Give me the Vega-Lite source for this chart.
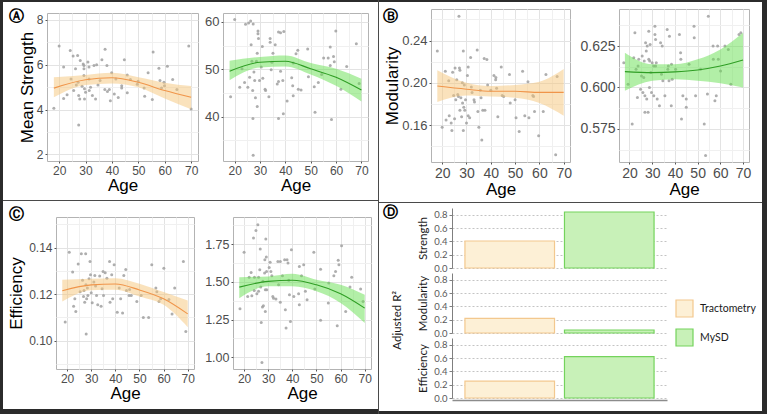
{
"$schema": "https://vega.github.io/schema/vega-lite/v6.json",
"padding": 0,
"background": "#ffffff",
"spacing": 0,
"config": {
  "font": "Liberation Sans",
  "view": {"stroke": null},
  "concat": {"spacing": 0},
  "axis": {"domain": false, "labelFont": "Liberation Sans", "titleFont": "Liberation Sans", "titleFontWeight": "normal", "titleColor": "#000000", "labelColor": "#4d4d4d", "labelFontSize": 12, "tickSize": 2, "tickColor": "#555555", "gridColor": "#e6e6e6", "labelOverlap": false, "labelFlush": false, "labelPadding": 2}
},
"datasets": {
  "a1": [{"age":20,"v":6.84},{"age":18,"v":4.06},{"age":21.7,"v":5.9},{"age":21.7,"v":4.5},{"age":23,"v":4.66},{"age":24.2,"v":6.64},{"age":24.5,"v":5.37},{"age":25.3,"v":6.39},{"age":25.5,"v":4.85},{"age":26.2,"v":5.82},{"age":26.5,"v":5.1},{"age":27,"v":6.42},{"age":27.2,"v":5.22},{"age":27.4,"v":3.31},{"age":27.4,"v":4.63},{"age":27.8,"v":4.48},{"age":28,"v":6.19},{"age":28.7,"v":5.04},{"age":29.1,"v":6.04},{"age":29.4,"v":5.97},{"age":29.4,"v":5.82},{"age":29.4,"v":5.52},{"age":29.6,"v":4.93},{"age":29.6,"v":4.48},{"age":30,"v":4.78},{"age":30.9,"v":6.12},{"age":31.3,"v":5.9},{"age":31.3,"v":5.37},{"age":31.4,"v":4.85},{"age":31.9,"v":5.0},{"age":32.6,"v":4.63},{"age":33.2,"v":5.97},{"age":33.8,"v":4.48},{"age":34.2,"v":6.0},{"age":34.7,"v":5.1},{"age":35.5,"v":5.3},{"age":36.2,"v":6.22},{"age":37.4,"v":6.69},{"age":37.3,"v":4.9},{"age":38.1,"v":5.97},{"age":38.3,"v":4.81},{"age":39,"v":4.9},{"age":39.4,"v":4.4},{"age":39.9,"v":5.64},{"age":40.9,"v":4.7},{"age":41.5,"v":5.37},{"age":42.4,"v":4.54},{"age":43.7,"v":5.07},{"age":43.7,"v":4.96},{"age":44.7,"v":6.22},{"age":45.8,"v":5.55},{"age":45.8,"v":4.75},{"age":47,"v":5.34},{"age":49.6,"v":5.13},{"age":49.9,"v":5.27},{"age":52.2,"v":4.96},{"age":52.4,"v":4.6},{"age":53.7,"v":5.64},{"age":55.3,"v":4.45},{"age":55.6,"v":6.57},{"age":57.8,"v":5.85},{"age":58.2,"v":5.3},{"age":58.8,"v":4.96},{"age":59.7,"v":5.22},{"age":59.9,"v":5.07},{"age":61,"v":5.93},{"age":63,"v":5.34},{"age":64.6,"v":4.9},{"age":69.1,"v":6.84},{"age":70,"v":4.03}],
  "a2": [{"age":18.4,"v":44.2},{"age":20,"v":60.5},{"age":22,"v":46.2},{"age":22.9,"v":50.1},{"age":23.9,"v":47.2},{"age":24.3,"v":59.5},{"age":25.2,"v":46.2},{"age":25.5,"v":59.8},{"age":25.9,"v":48.3},{"age":26.3,"v":60.2},{"age":26.5,"v":55.2},{"age":26.8,"v":51.7},{"age":27.1,"v":45.5},{"age":27.2,"v":39.6},{"age":27.3,"v":59.6},{"age":27.3,"v":31.8},{"age":27.6,"v":49.4},{"age":27.9,"v":47.6},{"age":28.2,"v":44},{"age":28.6,"v":51.7},{"age":28.9,"v":53.4},{"age":28.9,"v":42.1},{"age":29.2,"v":58.1},{"age":29.2,"v":57.5},{"age":29.4,"v":56.5},{"age":29.8,"v":47.6},{"age":30.5,"v":50.5},{"age":30.9,"v":54.8},{"age":31.1,"v":48.1},{"age":32,"v":45.8},{"age":32.2,"v":45.5},{"age":33.5,"v":44.2},{"age":34,"v":56.5},{"age":34,"v":55.7},{"age":34.4,"v":49.9},{"age":34.7,"v":51.5},{"age":35.1,"v":53.4},{"age":36,"v":55.2},{"age":36.8,"v":46.9},{"age":37.3,"v":57.9},{"age":37.3,"v":47.4},{"age":37.3,"v":39.6},{"age":38.1,"v":57.7},{"age":38.1,"v":49.6},{"age":39,"v":47.6},{"age":39.2,"v":40.6},{"age":39.4,"v":58},{"age":40.7,"v":43.3},{"age":42.5,"v":48.2},{"age":42.9,"v":46.5},{"age":43.1,"v":51.3},{"age":43.1,"v":44.4},{"age":44.2,"v":53.3},{"age":44.9,"v":54},{"age":45.1,"v":45.8},{"age":46.2,"v":45.6},{"age":48.8,"v":54.3},{"age":49.1,"v":48.4},{"age":51.4,"v":46.3},{"age":51.7,"v":40.9},{"age":53,"v":47.2},{"age":54.3,"v":48.9},{"age":55.1,"v":52.4},{"age":56.9,"v":52.4},{"age":57.7,"v":54.7},{"age":57.7,"v":50.8},{"age":58.2,"v":39.4},{"age":59,"v":52.7},{"age":59.3,"v":51.6},{"age":59.9,"v":58.1},{"age":61.9,"v":45.8},{"age":64.2,"v":50.6},{"age":68,"v":55.4},{"age":69.1,"v":47}],
  "b1": [{"age":18,"v":0.230},{"age":20,"v":0.158},{"age":21.3,"v":0.211},{"age":21.6,"v":0.165},{"age":22.7,"v":0.202},{"age":22.9,"v":0.169},{"age":23.7,"v":0.162},{"age":24,"v":0.155},{"age":24.3,"v":0.210},{"age":24.7,"v":0.188},{"age":25.1,"v":0.166},{"age":25.3,"v":0.214},{"age":25.6,"v":0.184},{"age":26,"v":0.203},{"age":26.4,"v":0.189},{"age":26.7,"v":0.187},{"age":26.9,"v":0.263},{"age":27.1,"v":0.214},{"age":27.3,"v":0.212},{"age":27.3,"v":0.174},{"age":27.7,"v":0.186},{"age":28,"v":0.168},{"age":28.3,"v":0.200},{"age":28.4,"v":0.181},{"age":28.7,"v":0.230},{"age":28.7,"v":0.155},{"age":28.9,"v":0.177},{"age":29.1,"v":0.198},{"age":29.3,"v":0.174},{"age":29.6,"v":0.184},{"age":30,"v":0.162},{"age":30.4,"v":0.207},{"age":30.7,"v":0.215},{"age":30.7,"v":0.169},{"age":31.3,"v":0.167},{"age":31.7,"v":0.224},{"age":32,"v":0.196},{"age":32.3,"v":0.191},{"age":33.1,"v":0.184},{"age":33.3,"v":0.182},{"age":34.4,"v":0.231},{"age":34.7,"v":0.173},{"age":35.1,"v":0.158},{"age":35.7,"v":0.193},{"age":36,"v":0.186},{"age":36.3,"v":0.146},{"age":36.7,"v":0.174},{"age":37.3,"v":0.223},{"age":37.6,"v":0.174},{"age":38.4,"v":0.222},{"age":38.7,"v":0.198},{"age":40,"v":0.193},{"age":41.3,"v":0.207},{"age":42,"v":0.203},{"age":42.1,"v":0.205},{"age":42.4,"v":0.195},{"age":42.9,"v":0.168},{"age":44.3,"v":0.215},{"age":44.7,"v":0.188},{"age":45.3,"v":0.187},{"age":47.7,"v":0.208},{"age":48,"v":0.181},{"age":50,"v":0.184},{"age":50.4,"v":0.167},{"age":51.7,"v":0.154},{"age":53.1,"v":0.211},{"age":54,"v":0.169},{"age":55.3,"v":0.201},{"age":55.7,"v":0.167},{"age":57.3,"v":0.188},{"age":57.6,"v":0.187},{"age":58,"v":0.173},{"age":59.7,"v":0.150},{"age":61.6,"v":0.173},{"age":62.7,"v":0.208},{"age":66.7,"v":0.132},{"age":67.3,"v":0.206}],
  "b2": [{"age":17.5,"v":0.615},{"age":19.4,"v":0.602},{"age":21.2,"v":0.578},{"age":21.9,"v":0.618},{"age":22.4,"v":0.633},{"age":22.9,"v":0.611},{"age":23.5,"v":0.594},{"age":23.8,"v":0.613},{"age":24.1,"v":0.617},{"age":24.9,"v":0.599},{"age":25.3,"v":0.607},{"age":25.6,"v":0.619},{"age":25.9,"v":0.597},{"age":26.3,"v":0.606},{"age":26.5,"v":0.616},{"age":26.8,"v":0.595},{"age":26.8,"v":0.585},{"age":27.1,"v":0.627},{"age":27.4,"v":0.622},{"age":27.6,"v":0.593},{"age":27.8,"v":0.625},{"age":28.2,"v":0.585},{"age":28.5,"v":0.634},{"age":28.5,"v":0.617},{"age":28.8,"v":0.600},{"age":28.9,"v":0.616},{"age":29.1,"v":0.626},{"age":29.4,"v":0.609},{"age":29.7,"v":0.597},{"age":30,"v":0.615},{"age":30.7,"v":0.613},{"age":30.7,"v":0.595},{"age":31.2,"v":0.637},{"age":31.2,"v":0.632},{"age":31.5,"v":0.629},{"age":31.5,"v":0.613},{"age":31.8,"v":0.615},{"age":32.2,"v":0.593},{"age":33.2,"v":0.589},{"age":33.7,"v":0.627},{"age":34.1,"v":0.608},{"age":34.4,"v":0.625},{"age":34.7,"v":0.604},{"age":35.6,"v":0.595},{"age":36.6,"v":0.635},{"age":36.9,"v":0.611},{"age":37.1,"v":0.613},{"age":37.4,"v":0.604},{"age":37.6,"v":0.631},{"age":38.4,"v":0.589},{"age":38.5,"v":0.614},{"age":38.8,"v":0.605},{"age":40.3,"v":0.611},{"age":42,"v":0.632},{"age":42.5,"v":0.621},{"age":42.6,"v":0.617},{"age":42.9,"v":0.581},{"age":43.5,"v":0.595},{"age":45,"v":0.593},{"age":45,"v":0.588},{"age":46.2,"v":0.614},{"age":48.4,"v":0.637},{"age":48.5,"v":0.630},{"age":49.1,"v":0.595},{"age":51.3,"v":0.611},{"age":52.9,"v":0.578},{"age":53.5,"v":0.559},{"age":54.3,"v":0.596},{"age":54.7,"v":0.643},{"age":56.8,"v":0.625},{"age":56.9,"v":0.617},{"age":57.6,"v":0.592},{"age":58.2,"v":0.595},{"age":58.8,"v":0.625},{"age":59.1,"v":0.617},{"age":60.1,"v":0.610},{"age":62,"v":0.625},{"age":63.5,"v":0.623},{"age":64.6,"v":0.602},{"age":68.2,"v":0.632},{"age":69,"v":0.633}],
  "c1": [{"age":19.2,"v":0.108},{"age":20.9,"v":0.138},{"age":22.3,"v":0.1295},{"age":22.7,"v":0.1148},{"age":23.2,"v":0.118},{"age":23.6,"v":0.1125},{"age":24.6,"v":0.133},{"age":25.4,"v":0.121},{"age":25.9,"v":0.1374},{"age":26.4,"v":0.126},{"age":26.8,"v":0.119},{"age":27,"v":0.1216},{"age":27.3,"v":0.1165},{"age":27.7,"v":0.1374},{"age":27.8,"v":0.124},{"age":27.9,"v":0.1029},{"age":28.1,"v":0.118},{"age":28.4,"v":0.1226},{"age":28.6,"v":0.1194},{"age":29.1,"v":0.1266},{"age":29.5,"v":0.134},{"age":29.7,"v":0.1283},{"age":30,"v":0.1206},{"age":30.4,"v":0.1163},{"age":31.1,"v":0.1252},{"age":31.5,"v":0.128},{"age":31.8,"v":0.1235},{"age":32.2,"v":0.1194},{"age":32.7,"v":0.1154},{"age":33.5,"v":0.1278},{"age":34.1,"v":0.1148},{"age":34.5,"v":0.1223},{"age":34.9,"v":0.1298},{"age":35.1,"v":0.1194},{"age":35.8,"v":0.1292},{"age":36.5,"v":0.1269},{"age":37.6,"v":0.134},{"age":37.8,"v":0.1165},{"age":38.5,"v":0.1283},{"age":38.9,"v":0.118},{"age":39.5,"v":0.1327},{"age":40.8,"v":0.1122},{"age":41.6,"v":0.1226},{"age":42.2,"v":0.118},{"age":43,"v":0.1119},{"age":43.5,"v":0.128},{"age":44.3,"v":0.1306},{"age":44.6,"v":0.1216},{"age":45.7,"v":0.1194},{"age":45.9,"v":0.122},{"age":46.6,"v":0.1194},{"age":48.9,"v":0.1168},{"age":50.7,"v":0.1194},{"age":51.6,"v":0.110},{"age":53.8,"v":0.110},{"age":55.1,"v":0.1327},{"age":56.8,"v":0.1226},{"age":57.2,"v":0.121},{"age":58.1,"v":0.1168},{"age":58.8,"v":0.118},{"age":60.1,"v":0.1312},{"age":62.2,"v":0.1177},{"age":63.5,"v":0.1115},{"age":64.6,"v":0.1226},{"age":68.2,"v":0.134},{"age":69.2,"v":0.1039}],
  "c2": [{"age":18.3,"v":1.322},{"age":20,"v":1.695},{"age":21.5,"v":1.403},{"age":22.1,"v":1.531},{"age":22.9,"v":1.562},{"age":23.2,"v":1.408},{"age":23.9,"v":1.79},{"age":24.2,"v":1.443},{"age":24.3,"v":1.531},{"age":24.9,"v":1.84},{"age":25.3,"v":1.421},{"age":25.7,"v":1.878},{"age":26,"v":1.531},{"age":26,"v":1.437},{"age":26.5,"v":1.58},{"age":26.7,"v":1.717},{"age":26.9,"v":1.465},{"age":27.1,"v":1.231},{"age":27.4,"v":0.966},{"age":27.6,"v":1.333},{"age":27.8,"v":1.503},{"age":28,"v":1.342},{"age":28.5,"v":1.558},{"age":28.6,"v":1.646},{"age":28.8,"v":1.304},{"age":28.8,"v":1.448},{"age":29,"v":1.783},{"age":29.2,"v":1.664},{"age":29.3,"v":1.569},{"age":29.4,"v":1.448},{"age":30.4,"v":1.595},{"age":30.8,"v":1.629},{"age":31.1,"v":1.569},{"age":31.5,"v":1.54},{"age":31.9,"v":1.403},{"age":32.2,"v":1.392},{"age":33.2,"v":1.386},{"age":34,"v":1.635},{"age":34.3,"v":1.48},{"age":35,"v":1.635},{"age":35,"v":1.364},{"age":35.9,"v":1.54},{"age":36.8,"v":1.646},{"age":37.1,"v":1.315},{"age":37.4,"v":1.194},{"age":37.8,"v":1.646},{"age":38.2,"v":1.624},{"age":38.5,"v":1.51},{"age":38.8,"v":1.415},{"age":39.2,"v":1.238},{"age":39.6,"v":1.712},{"age":40.6,"v":1.403},{"age":42.6,"v":1.421},{"age":42.9,"v":1.348},{"age":42.9,"v":1.602},{"age":43.8,"v":1.54},{"age":44.7,"v":1.613},{"age":45.4,"v":1.437},{"age":46.1,"v":1.381},{"age":48.9,"v":1.695},{"age":49.3,"v":1.452},{"age":51.7,"v":1.584},{"age":51.7,"v":1.245},{"age":54.9,"v":1.36},{"age":55.1,"v":1.492},{"age":57.2,"v":1.54},{"age":57.9,"v":1.569},{"age":58.6,"v":1.21},{"age":59,"v":1.642},{"age":59.3,"v":1.613},{"age":60.4,"v":1.739},{"age":62.1,"v":1.304},{"age":63.9,"v":1.465},{"age":64.6,"v":1.531},{"age":68.3,"v":1.452},{"age":69.3,"v":1.37}],
  "fa1": [{"age":18,"fit":4.96,"lo":4.55,"hi":5.45},{"age":30,"fit":5.33,"lo":5.10,"hi":5.55},{"age":40,"fit":5.42,"lo":5.17,"hi":5.64},{"age":50,"fit":5.22,"lo":5.0,"hi":5.45},{"age":60,"fit":4.85,"lo":4.5,"hi":5.2},{"age":70,"fit":4.55,"lo":4.02,"hi":5.05}],
  "fa2": [{"age":18,"fit":49.6,"lo":47.7,"hi":51.8},{"age":30,"fit":51.5,"lo":50.4,"hi":52.6},{"age":40,"fit":51.7,"lo":50.6,"hi":52.9},{"age":50,"fit":50.1,"lo":48.9,"hi":51.3},{"age":60,"fit":48.3,"lo":46.5,"hi":50.1},{"age":70,"fit":45.6,"lo":43.2,"hi":48.0}],
  "fb1": [{"age":18,"fit":0.197,"lo":0.182,"hi":0.212},{"age":30,"fit":0.194,"lo":0.188,"hi":0.200},{"age":40,"fit":0.192,"lo":0.187,"hi":0.197},{"age":50,"fit":0.192,"lo":0.186,"hi":0.198},{"age":60,"fit":0.191,"lo":0.181,"hi":0.201},{"age":70,"fit":0.191,"lo":0.169,"hi":0.213}],
  "fb2": [{"age":18,"fit":0.6096,"lo":0.598,"hi":0.621},{"age":30,"fit":0.609,"lo":0.604,"hi":0.614},{"age":40,"fit":0.6094,"lo":0.605,"hi":0.614},{"age":50,"fit":0.6106,"lo":0.604,"hi":0.617},{"age":60,"fit":0.613,"lo":0.6026,"hi":0.623},{"age":70,"fit":0.6166,"lo":0.600,"hi":0.633}],
  "fc1": [{"age":18,"fit":0.1215,"lo":0.1168,"hi":0.1262},{"age":30,"fit":0.124,"lo":0.1217,"hi":0.1266},{"age":40,"fit":0.1244,"lo":0.1219,"hi":0.1269},{"age":50,"fit":0.1218,"lo":0.119,"hi":0.1245},{"age":60,"fit":0.118,"lo":0.1154,"hi":0.1209},{"age":70,"fit":0.1115,"lo":0.1058,"hi":0.1173}],
  "fc2": [{"age":18,"fit":1.465,"lo":1.392,"hi":1.531},{"age":30,"fit":1.503,"lo":1.47,"hi":1.536},{"age":40,"fit":1.51,"lo":1.47,"hi":1.554},{"age":50,"fit":1.48,"lo":1.437,"hi":1.514},{"age":60,"fit":1.421,"lo":1.36,"hi":1.481},{"age":70,"fit":1.326,"lo":1.227,"hi":1.414}],
  "d": [{"m":"Strength","g":"Tractometry","r":0.405},{"m":"Strength","g":"MySD","r":0.84},{"m":"Modularity","g":"Tractometry","r":0.22},{"m":"Modularity","g":"MySD","r":0.045},{"m":"Efficiency","g":"Tractometry","r":0.253},{"m":"Efficiency","g":"MySD","r":0.62}]
},
"hconcat": [
  {"width": 3, "height": 414, "data": {"values": []}, "mark": {"type": "point", "opacity": 0}, "encoding": {}, "view": {"fill": "#2b2b2b", "stroke": null}},
  {"spacing": 0, "vconcat": [
    {"width": 375, "height": 2, "data": {"values": []}, "mark": {"type": "point", "opacity": 0}, "encoding": {}, "view": {"fill": "#2b2b2b", "stroke": null}},
    {"width": 1, "height": 6, "data": {"values": []}, "mark": {"type": "point", "opacity": 0}, "encoding": {}, "view": {"fill": "#ffffff", "stroke": null}},
    {"spacing": 0,
     "title": {"text": "Ⓐ", "orient": "top", "anchor": "start", "frame": "bounds", "font": "DejaVu Sans", "fontSize": 15, "fontWeight": "bold", "color": "#000000", "baseline": "middle", "offset": 0, "dx": 6, "dy": 18},
     "hconcat": [
      {"width": 14, "height": 1, "data": {"values": []}, "mark": {"type": "point", "opacity": 0}, "encoding": {}, "view": {"fill": "#ffffff", "stroke": null}},
      {"width": 151, "height": 148, "view": {"stroke": "#b3b3b3"},
       "encoding": {"x": {"field": "age", "type": "quantitative", "title": "Age", "scale": {"domain": [15.4, 72.6], "nice": false, "zero": false},
                "axis": {"values": [20,25,30,35,40,45,50,55,60,65,70], "labelExpr": "datum.value % 10 === 0 ? datum.label : ''", "labelOverlap": false, "tickColor": {"condition": {"test": "datum.value % 10 === 0", "value": "#555555"}, "value": "transparent"}, "gridColor": {"condition": {"test": "datum.value % 10 === 0", "value": "#e3e3e3"}, "value": "#f0f0f0"}, "titleFontSize": 17, "titlePadding": 1}}},
       "layer": [
        {"data": {"name": "a1"}, "mark": {"type": "circle", "size": 9, "color": "#a0a0a0", "opacity": 0.85},
         "encoding": {"y": {"field": "v", "type": "quantitative", "title": "Mean Strength", "scale": {"domain": [1.71, 8.31], "nice": false, "zero": false},
                "axis": {"values": [2,3,4,5,6,7,8], "labelExpr": "datum.value % 2 === 0 ? datum.label : ''", "labelOverlap": false, "tickColor": {"condition": {"test": "datum.value % 2 === 0", "value": "#555555"}, "value": "transparent"}, "gridColor": {"condition": {"test": "datum.value % 2 === 0", "value": "#e3e3e3"}, "value": "#f0f0f0"}, "titleFontSize": 17, "titlePadding": 0}}}},
        {"data": {"name": "fa1"}, "mark": {"type": "area", "color": "#f5c57a", "opacity": 0.5, "interpolate": "monotone"},
         "encoding": {"y": {"field": "lo", "type": "quantitative", "title": "Mean Strength", "scale": {"domain": [1.71, 8.31], "nice": false, "zero": false},
                "axis": {"values": [2,3,4,5,6,7,8], "labelExpr": "datum.value % 2 === 0 ? datum.label : ''", "labelOverlap": false, "tickColor": {"condition": {"test": "datum.value % 2 === 0", "value": "#555555"}, "value": "transparent"}, "gridColor": {"condition": {"test": "datum.value % 2 === 0", "value": "#e3e3e3"}, "value": "#f0f0f0"}, "titleFontSize": 17, "titlePadding": 0}}, "y2": {"field": "hi"}}},
        {"data": {"name": "fa1"}, "mark": {"type": "line", "color": "#f0954a", "strokeWidth": 1.1, "interpolate": "monotone"},
         "encoding": {"y": {"field": "fit", "type": "quantitative", "title": "Mean Strength", "scale": {"domain": [1.71, 8.31], "nice": false, "zero": false},
                "axis": {"values": [2,3,4,5,6,7,8], "labelExpr": "datum.value % 2 === 0 ? datum.label : ''", "labelOverlap": false, "tickColor": {"condition": {"test": "datum.value % 2 === 0", "value": "#555555"}, "value": "transparent"}, "gridColor": {"condition": {"test": "datum.value % 2 === 0", "value": "#e3e3e3"}, "value": "#f0f0f0"}, "titleFontSize": 17, "titlePadding": 0}}}}
       ]},
      {"width": 5, "height": 1, "data": {"values": []}, "mark": {"type": "point", "opacity": 0}, "encoding": {}, "view": {"fill": "#ffffff", "stroke": null}},
      {"width": 145, "height": 148, "view": {"stroke": "#b3b3b3"},
       "encoding": {"x": {"field": "age", "type": "quantitative", "title": "Age", "scale": {"domain": [15.4, 72.6], "nice": false, "zero": false},
                "axis": {"values": [20,25,30,35,40,45,50,55,60,65,70], "labelExpr": "datum.value % 10 === 0 ? datum.label : ''", "labelOverlap": false, "tickColor": {"condition": {"test": "datum.value % 10 === 0", "value": "#555555"}, "value": "transparent"}, "gridColor": {"condition": {"test": "datum.value % 10 === 0", "value": "#e3e3e3"}, "value": "#f0f0f0"}, "titleFontSize": 17, "titlePadding": 1}}},
       "layer": [
        {"data": {"name": "a2"}, "mark": {"type": "circle", "size": 9, "color": "#a0a0a0", "opacity": 0.85},
         "encoding": {"y": {"field": "v", "type": "quantitative", "title": null, "scale": {"domain": [30.6, 61.9], "nice": false, "zero": false},
                "axis": {"values": [35,40,45,50,55,60], "labelExpr": "datum.value % 10 === 0 ? datum.label : ''", "labelOverlap": false, "tickColor": {"condition": {"test": "datum.value % 10 === 0", "value": "#555555"}, "value": "transparent"}, "gridColor": {"condition": {"test": "datum.value % 10 === 0", "value": "#e3e3e3"}, "value": "#f0f0f0"}, "labelFontSize": 13}}}},
        {"data": {"name": "fa2"}, "mark": {"type": "area", "color": "#66e050", "opacity": 0.5, "interpolate": "monotone"},
         "encoding": {"y": {"field": "lo", "type": "quantitative", "title": null, "scale": {"domain": [30.6, 61.9], "nice": false, "zero": false},
                "axis": {"values": [35,40,45,50,55,60], "labelExpr": "datum.value % 10 === 0 ? datum.label : ''", "labelOverlap": false, "tickColor": {"condition": {"test": "datum.value % 10 === 0", "value": "#555555"}, "value": "transparent"}, "gridColor": {"condition": {"test": "datum.value % 10 === 0", "value": "#e3e3e3"}, "value": "#f0f0f0"}, "labelFontSize": 13}}, "y2": {"field": "hi"}}},
        {"data": {"name": "fa2"}, "mark": {"type": "line", "color": "#2f9e24", "strokeWidth": 1.1, "interpolate": "monotone"},
         "encoding": {"y": {"field": "fit", "type": "quantitative", "title": null, "scale": {"domain": [30.6, 61.9], "nice": false, "zero": false},
                "axis": {"values": [35,40,45,50,55,60], "labelExpr": "datum.value % 10 === 0 ? datum.label : ''", "labelOverlap": false, "tickColor": {"condition": {"test": "datum.value % 10 === 0", "value": "#555555"}, "value": "transparent"}, "gridColor": {"condition": {"test": "datum.value % 10 === 0", "value": "#e3e3e3"}, "value": "#f0f0f0"}, "labelFontSize": 13}}}}
       ]}
    ]},
    {"width": 1, "height": 6, "data": {"values": []}, "mark": {"type": "point", "opacity": 0}, "encoding": {}, "view": {"fill": "#ffffff", "stroke": null}},
    {"width": 375, "height": 1, "data": {"values": []}, "mark": {"type": "point", "opacity": 0}, "encoding": {}, "view": {"fill": "#4a4a4a", "stroke": null}},
    {"width": 1, "height": 5, "data": {"values": []}, "mark": {"type": "point", "opacity": 0}, "encoding": {}, "view": {"fill": "#ffffff", "stroke": null}},
    {"spacing": 0,
     "title": {"text": "Ⓒ", "orient": "top", "anchor": "start", "frame": "bounds", "font": "DejaVu Sans", "fontSize": 15, "fontWeight": "bold", "color": "#000000", "baseline": "middle", "offset": 0, "dx": 6, "dy": 12},
     "hconcat": [
      {"width": 4, "height": 1, "data": {"values": []}, "mark": {"type": "point", "opacity": 0}, "encoding": {}, "view": {"fill": "#ffffff", "stroke": null}},
      {"width": 138, "height": 152, "view": {"stroke": "#b3b3b3"},
       "encoding": {"x": {"field": "age", "type": "quantitative", "title": "Age", "scale": {"domain": [15.4, 72.6], "nice": false, "zero": false},
                "axis": {"values": [20,25,30,35,40,45,50,55,60,65,70], "labelExpr": "datum.value % 10 === 0 ? datum.label : ''", "labelOverlap": false, "tickColor": {"condition": {"test": "datum.value % 10 === 0", "value": "#555555"}, "value": "transparent"}, "gridColor": {"condition": {"test": "datum.value % 10 === 0", "value": "#e3e3e3"}, "value": "#f0f0f0"}, "titleFontSize": 17, "titlePadding": 1}}},
       "layer": [
        {"data": {"name": "c1"}, "mark": {"type": "circle", "size": 9, "color": "#a0a0a0", "opacity": 0.85},
         "encoding": {"y": {"field": "v", "type": "quantitative", "title": "Efficiency", "scale": {"domain": [0.0878, 0.1532], "nice": false, "zero": false},
                "axis": {"values": [0.09,0.1,0.11,0.12,0.13,0.14,0.15], "format": ".2f", "labelExpr": "abs(datum.value/0.02 - round(datum.value/0.02)) < 0.001 ? datum.label : ''", "labelOverlap": false, "tickColor": {"condition": {"test": "abs(datum.value/0.02 - round(datum.value/0.02)) < 0.001", "value": "#555555"}, "value": "transparent"}, "gridColor": {"condition": {"test": "abs(datum.value/0.02 - round(datum.value/0.02)) < 0.001", "value": "#e3e3e3"}, "value": "#f0f0f0"}, "titleFontSize": 17, "titlePadding": 3}}}},
        {"data": {"name": "fc1"}, "mark": {"type": "area", "color": "#f5c57a", "opacity": 0.5, "interpolate": "monotone"},
         "encoding": {"y": {"field": "lo", "type": "quantitative", "title": "Efficiency", "scale": {"domain": [0.0878, 0.1532], "nice": false, "zero": false},
                "axis": {"values": [0.09,0.1,0.11,0.12,0.13,0.14,0.15], "format": ".2f", "labelExpr": "abs(datum.value/0.02 - round(datum.value/0.02)) < 0.001 ? datum.label : ''", "labelOverlap": false, "tickColor": {"condition": {"test": "abs(datum.value/0.02 - round(datum.value/0.02)) < 0.001", "value": "#555555"}, "value": "transparent"}, "gridColor": {"condition": {"test": "abs(datum.value/0.02 - round(datum.value/0.02)) < 0.001", "value": "#e3e3e3"}, "value": "#f0f0f0"}, "titleFontSize": 17, "titlePadding": 3}}, "y2": {"field": "hi"}}},
        {"data": {"name": "fc1"}, "mark": {"type": "line", "color": "#f0954a", "strokeWidth": 1.1, "interpolate": "monotone"},
         "encoding": {"y": {"field": "fit", "type": "quantitative", "title": "Efficiency", "scale": {"domain": [0.0878, 0.1532], "nice": false, "zero": false},
                "axis": {"values": [0.09,0.1,0.11,0.12,0.13,0.14,0.15], "format": ".2f", "labelExpr": "abs(datum.value/0.02 - round(datum.value/0.02)) < 0.001 ? datum.label : ''", "labelOverlap": false, "tickColor": {"condition": {"test": "abs(datum.value/0.02 - round(datum.value/0.02)) < 0.001", "value": "#555555"}, "value": "transparent"}, "gridColor": {"condition": {"test": "abs(datum.value/0.02 - round(datum.value/0.02)) < 0.001", "value": "#e3e3e3"}, "value": "#f0f0f0"}, "titleFontSize": 17, "titlePadding": 3}}}}
       ]},
      {"width": 9, "height": 1, "data": {"values": []}, "mark": {"type": "point", "opacity": 0}, "encoding": {}, "view": {"fill": "#ffffff", "stroke": null}},
      {"width": 138, "height": 152, "view": {"stroke": "#b3b3b3"},
       "encoding": {"x": {"field": "age", "type": "quantitative", "title": "Age", "scale": {"domain": [15.4, 72.6], "nice": false, "zero": false},
                "axis": {"values": [20,25,30,35,40,45,50,55,60,65,70], "labelExpr": "datum.value % 10 === 0 ? datum.label : ''", "labelOverlap": false, "tickColor": {"condition": {"test": "datum.value % 10 === 0", "value": "#555555"}, "value": "transparent"}, "gridColor": {"condition": {"test": "datum.value % 10 === 0", "value": "#e3e3e3"}, "value": "#f0f0f0"}, "titleFontSize": 17, "titlePadding": 1}}},
       "layer": [
        {"data": {"name": "c2"}, "mark": {"type": "circle", "size": 9, "color": "#a0a0a0", "opacity": 0.85},
         "encoding": {"y": {"field": "v", "type": "quantitative", "title": null, "scale": {"domain": [0.923, 1.929], "nice": false, "zero": false},
                "axis": {"values": [1,1.125,1.25,1.375,1.5,1.625,1.75,1.875], "format": ".2f", "labelExpr": "abs(datum.value/0.25 - round(datum.value/0.25)) < 0.001 ? datum.label : ''", "labelOverlap": false, "tickColor": {"condition": {"test": "abs(datum.value/0.25 - round(datum.value/0.25)) < 0.001", "value": "#555555"}, "value": "transparent"}, "gridColor": {"condition": {"test": "abs(datum.value/0.25 - round(datum.value/0.25)) < 0.001", "value": "#e3e3e3"}, "value": "#f0f0f0"}, "labelFontSize": 12.5}}}},
        {"data": {"name": "fc2"}, "mark": {"type": "area", "color": "#66e050", "opacity": 0.5, "interpolate": "monotone"},
         "encoding": {"y": {"field": "lo", "type": "quantitative", "title": null, "scale": {"domain": [0.923, 1.929], "nice": false, "zero": false},
                "axis": {"values": [1,1.125,1.25,1.375,1.5,1.625,1.75,1.875], "format": ".2f", "labelExpr": "abs(datum.value/0.25 - round(datum.value/0.25)) < 0.001 ? datum.label : ''", "labelOverlap": false, "tickColor": {"condition": {"test": "abs(datum.value/0.25 - round(datum.value/0.25)) < 0.001", "value": "#555555"}, "value": "transparent"}, "gridColor": {"condition": {"test": "abs(datum.value/0.25 - round(datum.value/0.25)) < 0.001", "value": "#e3e3e3"}, "value": "#f0f0f0"}, "labelFontSize": 12.5}}, "y2": {"field": "hi"}}},
        {"data": {"name": "fc2"}, "mark": {"type": "line", "color": "#2f9e24", "strokeWidth": 1.1, "interpolate": "monotone"},
         "encoding": {"y": {"field": "fit", "type": "quantitative", "title": null, "scale": {"domain": [0.923, 1.929], "nice": false, "zero": false},
                "axis": {"values": [1,1.125,1.25,1.375,1.5,1.625,1.75,1.875], "format": ".2f", "labelExpr": "abs(datum.value/0.25 - round(datum.value/0.25)) < 0.001 ? datum.label : ''", "labelOverlap": false, "tickColor": {"condition": {"test": "abs(datum.value/0.25 - round(datum.value/0.25)) < 0.001", "value": "#555555"}, "value": "transparent"}, "gridColor": {"condition": {"test": "abs(datum.value/0.25 - round(datum.value/0.25)) < 0.001", "value": "#e3e3e3"}, "value": "#f0f0f0"}, "labelFontSize": 12.5}}}}
       ]}
    ]},
    {"width": 1, "height": 7, "data": {"values": []}, "mark": {"type": "point", "opacity": 0}, "encoding": {}, "view": {"fill": "#ffffff", "stroke": null}},
    {"width": 375, "height": 6, "data": {"values": []}, "mark": {"type": "point", "opacity": 0}, "encoding": {}, "view": {"fill": "#2b2b2b", "stroke": null}}
  ]},
  {"width": 1, "height": 414, "data": {"values": []}, "mark": {"type": "point", "opacity": 0}, "encoding": {}, "view": {"fill": "#4a4a4a", "stroke": null}},
  {"spacing": 0, "vconcat": [
    {"width": 383, "height": 2, "data": {"values": []}, "mark": {"type": "point", "opacity": 0}, "encoding": {}, "view": {"fill": "#2b2b2b", "stroke": null}},
    {"width": 1, "height": 6, "data": {"values": []}, "mark": {"type": "point", "opacity": 0}, "encoding": {}, "view": {"fill": "#ffffff", "stroke": null}},
    {"spacing": 0,
     "title": {"text": "Ⓑ", "orient": "top", "anchor": "start", "frame": "bounds", "font": "DejaVu Sans", "fontSize": 15, "fontWeight": "bold", "color": "#000000", "baseline": "middle", "offset": 0, "dx": 3.5, "dy": 22.5},
     "hconcat": [
      {"width": 4, "height": 1, "data": {"values": []}, "mark": {"type": "point", "opacity": 0}, "encoding": {}, "view": {"fill": "#ffffff", "stroke": null}},
      {"width": 139, "height": 153, "view": {"stroke": "#b3b3b3"},
       "encoding": {"x": {"field": "age", "type": "quantitative", "title": "Age", "scale": {"domain": [15.4, 72.6], "nice": false, "zero": false},
                "axis": {"values": [20,25,30,35,40,45,50,55,60,65,70], "labelExpr": "datum.value % 10 === 0 ? datum.label : ''", "labelOverlap": false, "tickColor": {"condition": {"test": "datum.value % 10 === 0", "value": "#555555"}, "value": "transparent"}, "gridColor": {"condition": {"test": "datum.value % 10 === 0", "value": "#e3e3e3"}, "value": "#f0f0f0"}, "titleFontSize": 17, "titlePadding": 1, "labelFontSize": 14}}},
       "layer": [
        {"data": {"name": "b1"}, "mark": {"type": "circle", "size": 9, "color": "#a0a0a0", "opacity": 0.85},
         "encoding": {"y": {"field": "v", "type": "quantitative", "title": "Modularity", "scale": {"domain": [0.1252, 0.2698], "nice": false, "zero": false},
                "axis": {"values": [0.14,0.16,0.18,0.2,0.22,0.24,0.26], "format": ".2f", "labelExpr": "abs(datum.value/0.04 - round(datum.value/0.04)) < 0.001 ? datum.label : ''", "labelOverlap": false, "tickColor": {"condition": {"test": "abs(datum.value/0.04 - round(datum.value/0.04)) < 0.001", "value": "#555555"}, "value": "transparent"}, "gridColor": {"condition": {"test": "abs(datum.value/0.04 - round(datum.value/0.04)) < 0.001", "value": "#e3e3e3"}, "value": "#f0f0f0"}, "titleFontSize": 17, "titlePadding": 0, "labelFontSize": 13}}}},
        {"data": {"name": "fb1"}, "mark": {"type": "area", "color": "#f5c57a", "opacity": 0.5, "interpolate": "monotone"},
         "encoding": {"y": {"field": "lo", "type": "quantitative", "title": "Modularity", "scale": {"domain": [0.1252, 0.2698], "nice": false, "zero": false},
                "axis": {"values": [0.14,0.16,0.18,0.2,0.22,0.24,0.26], "format": ".2f", "labelExpr": "abs(datum.value/0.04 - round(datum.value/0.04)) < 0.001 ? datum.label : ''", "labelOverlap": false, "tickColor": {"condition": {"test": "abs(datum.value/0.04 - round(datum.value/0.04)) < 0.001", "value": "#555555"}, "value": "transparent"}, "gridColor": {"condition": {"test": "abs(datum.value/0.04 - round(datum.value/0.04)) < 0.001", "value": "#e3e3e3"}, "value": "#f0f0f0"}, "titleFontSize": 17, "titlePadding": 0, "labelFontSize": 13}}, "y2": {"field": "hi"}}},
        {"data": {"name": "fb1"}, "mark": {"type": "line", "color": "#f0954a", "strokeWidth": 1.1, "interpolate": "monotone"},
         "encoding": {"y": {"field": "fit", "type": "quantitative", "title": "Modularity", "scale": {"domain": [0.1252, 0.2698], "nice": false, "zero": false},
                "axis": {"values": [0.14,0.16,0.18,0.2,0.22,0.24,0.26], "format": ".2f", "labelExpr": "abs(datum.value/0.04 - round(datum.value/0.04)) < 0.001 ? datum.label : ''", "labelOverlap": false, "tickColor": {"condition": {"test": "abs(datum.value/0.04 - round(datum.value/0.04)) < 0.001", "value": "#555555"}, "value": "transparent"}, "gridColor": {"condition": {"test": "abs(datum.value/0.04 - round(datum.value/0.04)) < 0.001", "value": "#e3e3e3"}, "value": "#f0f0f0"}, "titleFontSize": 17, "titlePadding": 0, "labelFontSize": 13}}}}
       ]},
      {"width": 7, "height": 1, "data": {"values": []}, "mark": {"type": "point", "opacity": 0}, "encoding": {}, "view": {"fill": "#ffffff", "stroke": null}},
      {"width": 130, "height": 153, "view": {"stroke": "#b3b3b3"},
       "encoding": {"x": {"field": "age", "type": "quantitative", "title": "Age", "scale": {"domain": [15.4, 72.6], "nice": false, "zero": false},
                "axis": {"values": [20,25,30,35,40,45,50,55,60,65,70], "labelExpr": "datum.value % 10 === 0 ? datum.label : ''", "labelOverlap": false, "tickColor": {"condition": {"test": "datum.value % 10 === 0", "value": "#555555"}, "value": "transparent"}, "gridColor": {"condition": {"test": "datum.value % 10 === 0", "value": "#e3e3e3"}, "value": "#f0f0f0"}, "titleFontSize": 17, "titlePadding": 1, "labelFontSize": 14}}},
       "layer": [
        {"data": {"name": "b2"}, "mark": {"type": "circle", "size": 9, "color": "#a0a0a0", "opacity": 0.85},
         "encoding": {"y": {"field": "v", "type": "quantitative", "title": null, "scale": {"domain": [0.555, 0.6474], "nice": false, "zero": false},
                "axis": {"values": [0.5625,0.575,0.5875,0.6,0.6125,0.625,0.6375], "format": ".3f", "labelExpr": "abs(datum.value/0.025 - round(datum.value/0.025)) < 0.001 ? datum.label : ''", "labelOverlap": false, "tickColor": {"condition": {"test": "abs(datum.value/0.025 - round(datum.value/0.025)) < 0.001", "value": "#555555"}, "value": "transparent"}, "gridColor": {"condition": {"test": "abs(datum.value/0.025 - round(datum.value/0.025)) < 0.001", "value": "#e3e3e3"}, "value": "#f0f0f0"}, "labelFontSize": 14}}}},
        {"data": {"name": "fb2"}, "mark": {"type": "area", "color": "#66e050", "opacity": 0.5, "interpolate": "monotone"},
         "encoding": {"y": {"field": "lo", "type": "quantitative", "title": null, "scale": {"domain": [0.555, 0.6474], "nice": false, "zero": false},
                "axis": {"values": [0.5625,0.575,0.5875,0.6,0.6125,0.625,0.6375], "format": ".3f", "labelExpr": "abs(datum.value/0.025 - round(datum.value/0.025)) < 0.001 ? datum.label : ''", "labelOverlap": false, "tickColor": {"condition": {"test": "abs(datum.value/0.025 - round(datum.value/0.025)) < 0.001", "value": "#555555"}, "value": "transparent"}, "gridColor": {"condition": {"test": "abs(datum.value/0.025 - round(datum.value/0.025)) < 0.001", "value": "#e3e3e3"}, "value": "#f0f0f0"}, "labelFontSize": 14}}, "y2": {"field": "hi"}}},
        {"data": {"name": "fb2"}, "mark": {"type": "line", "color": "#2f9e24", "strokeWidth": 1.1, "interpolate": "monotone"},
         "encoding": {"y": {"field": "fit", "type": "quantitative", "title": null, "scale": {"domain": [0.555, 0.6474], "nice": false, "zero": false},
                "axis": {"values": [0.5625,0.575,0.5875,0.6,0.6125,0.625,0.6375], "format": ".3f", "labelExpr": "abs(datum.value/0.025 - round(datum.value/0.025)) < 0.001 ? datum.label : ''", "labelOverlap": false, "tickColor": {"condition": {"test": "abs(datum.value/0.025 - round(datum.value/0.025)) < 0.001", "value": "#555555"}, "value": "transparent"}, "gridColor": {"condition": {"test": "abs(datum.value/0.025 - round(datum.value/0.025)) < 0.001", "value": "#e3e3e3"}, "value": "#f0f0f0"}, "labelFontSize": 14}}}}
       ]}
    ]},
    {"width": 1, "height": 4, "data": {"values": []}, "mark": {"type": "point", "opacity": 0}, "encoding": {}, "view": {"fill": "#ffffff", "stroke": null}},
    {"width": 383, "height": 1, "data": {"values": []}, "mark": {"type": "point", "opacity": 0}, "encoding": {}, "view": {"fill": "#4a4a4a", "stroke": null}},
    {"width": 1, "height": 2, "data": {"values": []}, "mark": {"type": "point", "opacity": 0}, "encoding": {}, "view": {"fill": "#ffffff", "stroke": null}},
    {"spacing": 0,
     "title": {"text": "Ⓓ", "orient": "top", "anchor": "start", "frame": "bounds", "font": "DejaVu Sans", "fontSize": 15, "fontWeight": "bold", "color": "#000000", "baseline": "middle", "offset": 0, "dx": 3.5, "dy": 19.3},
     "hconcat": [
      {"width": 13, "height": 1, "data": {"values": []}, "mark": {"type": "point", "opacity": 0}, "encoding": {}, "view": {"fill": "#ffffff", "stroke": null}},
      {"spacing": 0,
       "title": {"text": "Adjusted R²", "orient": "left", "anchor": "middle", "font": "Lato", "fontSize": 11.5, "fontWeight": "normal", "color": "#1a1a1a", "offset": 14, "dx": -15},
       "vconcat": [
        {"width": 215, "height": 60, "data": {"name": "d"}, "transform": [{"filter": "datum.m === 'Strength'"}],
         "mark": {"type": "bar", "strokeWidth": 1.2},
         "encoding": {
          "x": {"field": "g", "type": "nominal", "scale": {"domain": ["Tractometry", "MySD"], "paddingInner": 0.1, "paddingOuter": 0.13}, "axis": null},
          "y": {"field": "r", "type": "quantitative", "scale": {"domain": [0, 0.9], "nice": false},
                "axis": {"values": [0, 0.2, 0.4, 0.6, 0.8], "format": ".1f", "labelFont": "Lato", "labelFontSize": 9.5, "labelColor": "#595959", "tickSize": 3, "tickColor": "#7f7f7f", "domain": true, "domainColor": "#7f7f7f", "grid": true, "gridDash": [2, 2], "gridColor": "#c4c4c4", "title": "Strength", "titleFont": "Lato", "titleFontSize": 11.5, "titleColor": "#1a1a1a", "titlePadding": 5}},
          "fill": {"field": "g", "type": "nominal", "scale": {"domain": ["Tractometry", "MySD"], "range": ["#fdf0d6", "#c8f1b8"]},
                   "legend": {"orient": "none", "legendX": 675, "legendY": 299, "title": null, "symbolType": "square", "symbolSize": 289, "symbolStrokeWidth": 1.2, "labelFont": "Lato", "labelFontSize": 10.5, "labelColor": "#1a1a1a", "rowPadding": 6, "labelOffset": 6}},
          "stroke": {"field": "g", "type": "nominal", "scale": {"domain": ["Tractometry", "MySD"], "range": ["#f3c88e", "#74d35c"]},
                   "legend": {"orient": "none", "legendX": 675, "legendY": 299, "title": null, "symbolType": "square", "symbolSize": 289, "symbolStrokeWidth": 1.2, "labelFont": "Lato", "labelFontSize": 10.5, "labelColor": "#1a1a1a", "rowPadding": 6, "labelOffset": 6}}
         }},
        {"width": 215, "height": 60, "data": {"name": "d"}, "transform": [{"filter": "datum.m === 'Modularity'"}],
         "mark": {"type": "bar", "strokeWidth": 1.2},
         "encoding": {
          "x": {"field": "g", "type": "nominal", "scale": {"domain": ["Tractometry", "MySD"], "paddingInner": 0.1, "paddingOuter": 0.13}, "axis": null},
          "y": {"field": "r", "type": "quantitative", "scale": {"domain": [0, 0.9], "nice": false},
                "axis": {"values": [0, 0.2, 0.4, 0.6, 0.8], "format": ".1f", "labelFont": "Lato", "labelFontSize": 9.5, "labelColor": "#595959", "tickSize": 3, "tickColor": "#7f7f7f", "domain": true, "domainColor": "#7f7f7f", "grid": true, "gridDash": [2, 2], "gridColor": "#c4c4c4", "title": "Modularity", "titleFont": "Lato", "titleFontSize": 11.5, "titleColor": "#1a1a1a", "titlePadding": 5}},
          "fill": {"field": "g", "type": "nominal", "scale": {"domain": ["Tractometry", "MySD"], "range": ["#fdf0d6", "#c8f1b8"]},
                   "legend": {"orient": "none", "legendX": 675, "legendY": 299, "title": null, "symbolType": "square", "symbolSize": 289, "symbolStrokeWidth": 1.2, "labelFont": "Lato", "labelFontSize": 10.5, "labelColor": "#1a1a1a", "rowPadding": 6, "labelOffset": 6}},
          "stroke": {"field": "g", "type": "nominal", "scale": {"domain": ["Tractometry", "MySD"], "range": ["#f3c88e", "#74d35c"]},
                   "legend": {"orient": "none", "legendX": 675, "legendY": 299, "title": null, "symbolType": "square", "symbolSize": 289, "symbolStrokeWidth": 1.2, "labelFont": "Lato", "labelFontSize": 10.5, "labelColor": "#1a1a1a", "rowPadding": 6, "labelOffset": 6}}
         }},
        {"width": 215, "height": 60, "data": {"name": "d"}, "transform": [{"filter": "datum.m === 'Efficiency'"}],
         "mark": {"type": "bar", "strokeWidth": 1.2},
         "encoding": {
          "x": {"field": "g", "type": "nominal", "scale": {"domain": ["Tractometry", "MySD"], "paddingInner": 0.1, "paddingOuter": 0.13},
                "axis": {"title": null, "labels": false, "ticks": false, "domain": true, "domainColor": "#8c8c8c", "domainWidth": 1.5, "offset": 2, "grid": false}},
          "y": {"field": "r", "type": "quantitative", "scale": {"domain": [0, 0.9], "nice": false},
                "axis": {"values": [0, 0.2, 0.4, 0.6, 0.8], "format": ".1f", "labelFont": "Lato", "labelFontSize": 9.5, "labelColor": "#595959", "tickSize": 3, "tickColor": "#7f7f7f", "domain": true, "domainColor": "#7f7f7f", "grid": true, "gridDash": [2, 2], "gridColor": "#c4c4c4", "title": "Efficiency", "titleFont": "Lato", "titleFontSize": 11.5, "titleColor": "#1a1a1a", "titlePadding": 5}},
          "fill": {"field": "g", "type": "nominal", "scale": {"domain": ["Tractometry", "MySD"], "range": ["#fdf0d6", "#c8f1b8"]},
                   "legend": {"orient": "none", "legendX": 675, "legendY": 299, "title": null, "symbolType": "square", "symbolSize": 289, "symbolStrokeWidth": 1.2, "labelFont": "Lato", "labelFontSize": 10.5, "labelColor": "#1a1a1a", "rowPadding": 6, "labelOffset": 6}},
          "stroke": {"field": "g", "type": "nominal", "scale": {"domain": ["Tractometry", "MySD"], "range": ["#f3c88e", "#74d35c"]},
                   "legend": {"orient": "none", "legendX": 675, "legendY": 299, "title": null, "symbolType": "square", "symbolSize": 289, "symbolStrokeWidth": 1.2, "labelFont": "Lato", "labelFontSize": 10.5, "labelColor": "#1a1a1a", "rowPadding": 6, "labelOffset": 6}}
         }}
       ]}
    ]},
    {"width": 1, "height": 8, "data": {"values": []}, "mark": {"type": "point", "opacity": 0}, "encoding": {}, "view": {"fill": "#ffffff", "stroke": null}},
    {"width": 383, "height": 6, "data": {"values": []}, "mark": {"type": "point", "opacity": 0}, "encoding": {}, "view": {"fill": "#2b2b2b", "stroke": null}}
  ]},
  {"width": 5, "height": 414, "data": {"values": []}, "mark": {"type": "point", "opacity": 0}, "encoding": {}, "view": {"fill": "#2b2b2b", "stroke": null}}
]
}
